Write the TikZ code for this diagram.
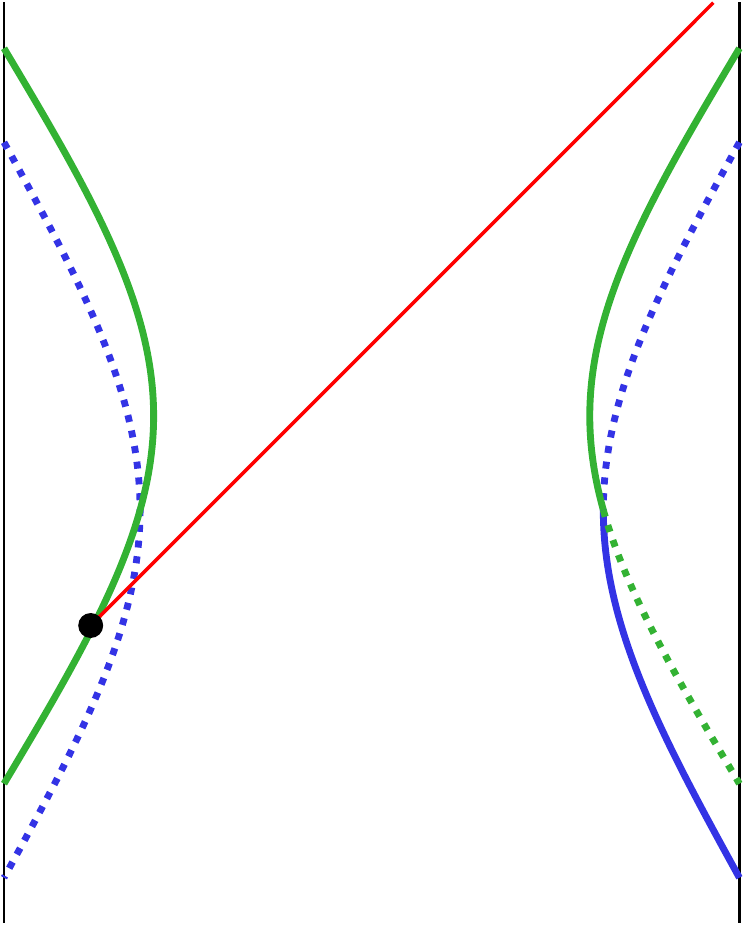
\documentclass[tikz,border=0pt]{standalone}
\definecolor{cgreen}{rgb}{0.2,0.7,0.2}
\definecolor{cblue}{rgb}{0.2,0.2,0.9}
\definecolor{cred}{rgb}{1,0,0}
\tikzset{
  bound/.style={black,line width=1.5pt},
  gsolid/.style={cgreen,line width=3.9pt},
  gdot/.style={cgreen,line width=3.9pt,dash pattern=on 4pt off 5pt},
  bsolid/.style={cblue,line width=3.9pt},
  bdot/.style={cblue,line width=3.9pt,dash pattern=on 4pt off 5pt},
  ray/.style={cred,line width=2pt},
  blackdot/.style={circle,fill=black,inner sep=0pt,minimum size=0.5cm}
}
\begin{document}
\begin{tikzpicture}[x=0.02cm,y=-0.02cm]
\useasboundingbox (0,0) rectangle (746,927);
% boundaries
\coordinate (lt) at (4,2); \coordinate (lb) at (4,923);
\coordinate (rt) at (739.5,2); \coordinate (rb) at (739.5,923);
\draw[bound] (lt) -- (lb);
\draw[bound] (rt) -- (rb);
% left blue dotted
\draw[bdot] plot[domain=-90:90,samples=120,smooth] ({371.7-4.0856*acos(0.5492*cos(\x))},{510+4.0856*\x});
% right blue: dotted upper half, solid lower half
\draw[bdot] plot[domain=-90:0,samples=80,smooth] ({371.7+4.0856*acos(0.5492*cos(\x))},{510+4.0856*\x});
\draw[bsolid] plot[domain=0:90,samples=80,smooth] ({371.7+4.0856*acos(0.5492*cos(\x))},{510+4.0856*\x});
% left green solid
\draw[gsolid] plot[domain=-90:90,samples=120,smooth] ({371.7-4.0856*acos(0.5966*cos(\x))},{416+4.0856*\x});
% right green: solid until crossing, dotted after
\draw[gsolid] plot[domain=-90:23,samples=100,smooth] ({371.7+4.0856*acos(0.5966*cos(\x))},{416+4.0856*\x});
\draw[gdot] plot[domain=23:90,samples=80,smooth] ({371.7+4.0856*acos(0.5966*cos(\x))},{416+4.0856*\x});
% light ray and point
\coordinate (pc) at (90.7,625.5);
\coordinate (q) at (713.3,2.7);
\draw[ray] (pc) -- (q);
\node[blackdot] (p) at (pc) {};
\end{tikzpicture}
\end{document}
